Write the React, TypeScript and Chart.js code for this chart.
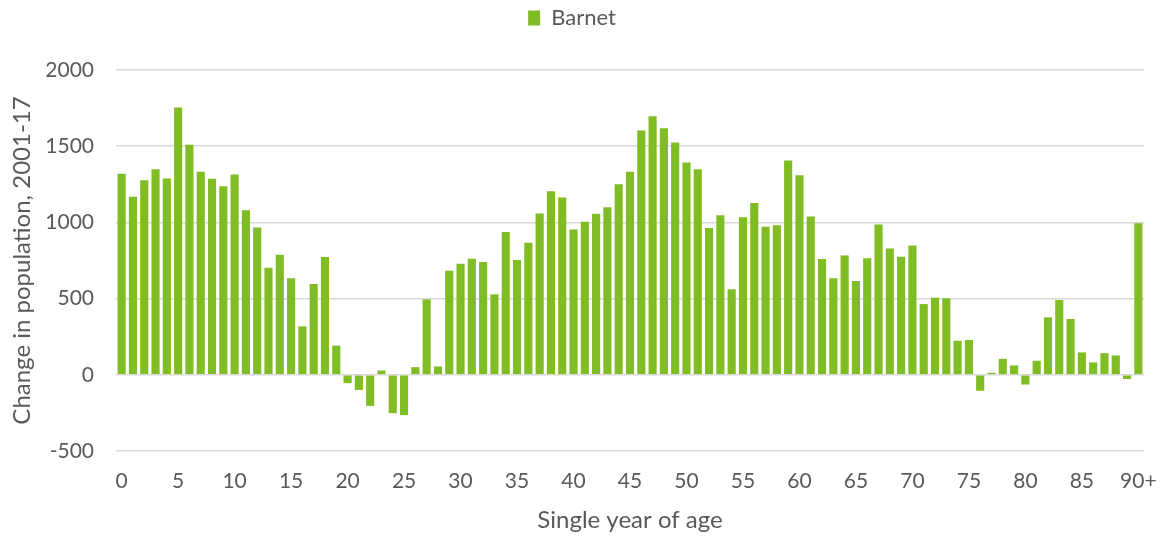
import React, { useEffect, useRef } from "react";
import { Chart, registerables } from "chart.js";

Chart.register(...registerables);

const ages: string[] = [
  "0","1","2","3","4","5","6","7","8","9",
  "10","11","12","13","14","15","16","17","18","19",
  "20","21","22","23","24","25","26","27","28","29",
  "30","31","32","33","34","35","36","37","38","39",
  "40","41","42","43","44","45","46","47","48","49",
  "50","51","52","53","54","55","56","57","58","59",
  "60","61","62","63","64","65","66","67","68","69",
  "70","71","72","73","74","75","76","77","78","79",
  "80","81","82","83","84","85","86","87","88","89",
  "90+",
];

const barnetChange: number[] = [
  1320, 1169, 1277, 1349, 1288, 1754, 1509, 1332, 1286, 1237,
  1314, 1080, 966, 703, 788, 633, 318, 596, 773, 191,
  -55, -99, -204, 28, -252, -265, 50, 495, 55, 683,
  729, 762, 740, 528, 937, 753, 867, 1058, 1204, 1163,
  953, 1005, 1056, 1099, 1250, 1332, 1603, 1697, 1618, 1524,
  1393, 1349, 964, 1047, 561, 1034, 1128, 972, 981, 1406,
  1310, 1038, 760, 633, 782, 615, 764, 986, 828, 775,
  848, 464, 506, 502, 223, 228, -105, 13, 105, 61,
  -64, 92, 377, 491, 366, 147, 81, 142, 127, -28,
  994,
];

const yTicks: number[] = [-500, 0, 500, 1000, 1500, 2000];

const FONT = "Lato, 'Open Sans', sans-serif";
const TEXT = "#595959";
const GREEN = "#80BC23";

const legendGap = {
  id: "legendGap",
  beforeInit(chart: any) {
    const legend = chart.legend;
    if (!legend) return;
    const origFit = legend.fit;
    legend.fit = function () {
      origFit.call(this);
      this.height += 31;
    };
  },
};

export default function App() {
  const ref = useRef<HTMLCanvasElement | null>(null);

  useEffect(() => {
    document.body.style.margin = "0";
    const canvas = ref.current;
    if (!canvas) return;
    const chart = new Chart(canvas, {
      type: "bar",
      data: {
        labels: ages,
        datasets: [
          {
            label: "Barnet",
            data: barnetChange,
            backgroundColor: GREEN,
            borderWidth: 0,
            barPercentage: 0.72,
            categoryPercentage: 1,
          },
        ],
      },
      plugins: [legendGap],
      options: {
        responsive: false,
        animation: false,
        maintainAspectRatio: false,
        layout: { padding: { left: 0, right: 18, top: 0, bottom: 0 } },
        plugins: {
          legend: {
            display: true,
            position: "top",
            labels: {
              boxWidth: 12,
              boxHeight: 15,
              color: TEXT,
              font: { family: FONT, size: 22 },
              padding: 7,
            },
          },
          tooltip: { enabled: false },
        },
        scales: {
          x: {
            grid: { display: false, drawTicks: false },
            border: { display: false },
            ticks: {
              autoSkip: false,
              maxRotation: 0,
              minRotation: 0,
              padding: 18,
              color: TEXT,
              font: { family: FONT, size: 21 },
              callback: (_v: any, i: number) => (i % 5 === 0 ? ages[i] : ""),
            },
            title: {
              display: true,
              text: "Single year of age",
              color: TEXT,
              font: { family: FONT, size: 24 },
              padding: { top: 0, bottom: 1 },
            },
            afterFit: (scale: any) => {
              scale.height = 85;
              scale.paddingLeft = 0;
              scale.paddingRight = 0;
            },
          },
          y: {
            min: -500,
            max: 2000,
            afterBuildTicks: (scale: any) => {
              scale.ticks = yTicks.map((v) => ({ value: v }));
            },
            grid: { color: "#D9D9D9", lineWidth: 1.5, drawTicks: false },
            border: { display: false },
            ticks: {
              padding: 22,
              color: TEXT,
              font: { family: FONT, size: 21 },
              callback: (v: any) => String(v),
            },
            title: {
              display: true,
              text: "Change in population, 2001-17",
              color: TEXT,
              font: { family: FONT, size: 24 },
              padding: { top: 8, bottom: 0 },
            },
            afterFit: (scale: any) => {
              scale.width = 116;
            },
          },
        },
      },
    });
    return () => chart.destroy();
  }, []);

  return (
    <div style={{ position: "absolute", left: 0, top: 0, width: 1162, height: 536, background: "#fff" }}>
      <canvas ref={ref} width={1162} height={536} style={{ width: 1162, height: 536 }} />
    </div>
  );
}
